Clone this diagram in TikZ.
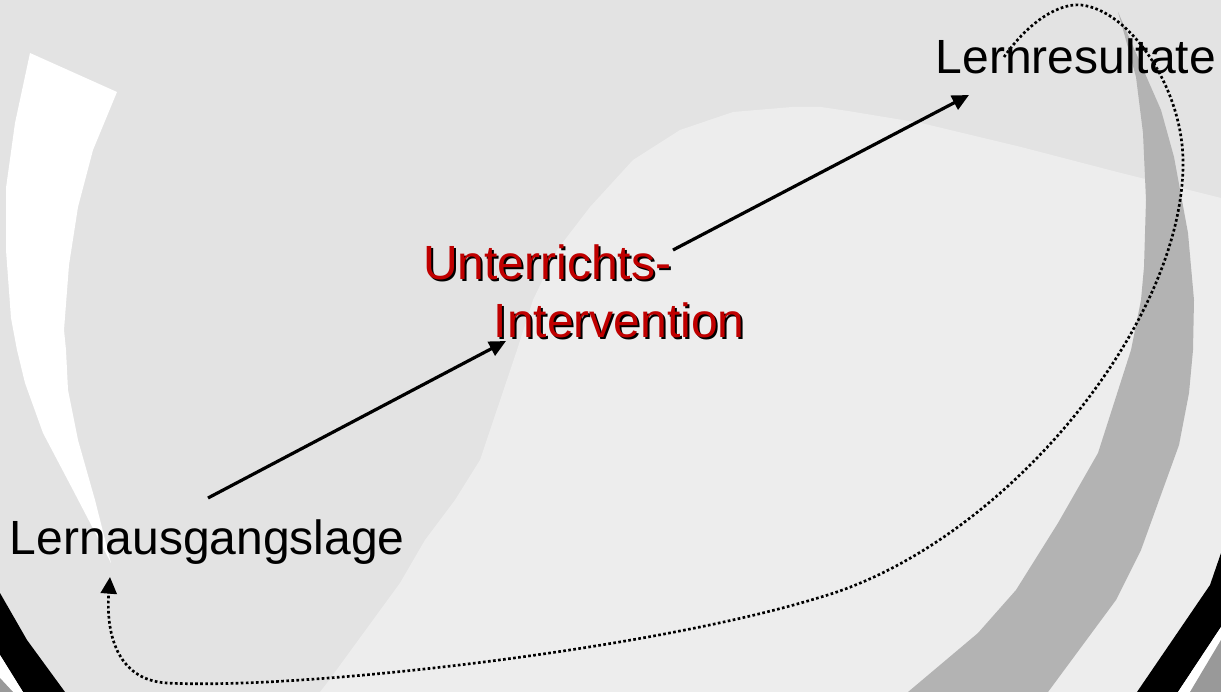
\documentclass[tikz,border=0pt]{standalone}
\usepackage{fontspec}
\setmainfont{Liberation Sans}
\usetikzlibrary{arrows.meta}
\definecolor{bgA}{HTML}{E3E3E3}
\definecolor{bgB}{HTML}{EDEDED}
\definecolor{band}{HTML}{B3B3B3}
\definecolor{cornergray}{HTML}{999999}
\definecolor{darkred}{HTML}{C00000}
\tikzset{
  lbl/.style={inner sep=0pt, anchor=base west, font=\fontsize{36}{43.5}\selectfont},
  arr/.style={line width=2.4pt, -{Triangle[length=12.5pt,width=11.5pt]}},
  dotline/.style={line width=2pt, dash pattern=on 2pt off 1.8pt, -{Triangle[length=12.5pt,width=12pt]}},
}
\begin{document}
\begin{tikzpicture}[x=0.75pt,y=-0.75pt]
\useasboundingbox (0,0) rectangle (1221,692);
% background
\fill[bgA] (0,0) rectangle (1221,692);
% white crescent on the left
\fill[white] (30,53) -- (117,92) -- (93,150) -- (78,207) -- (69,265) -- (64,330) -- (66,350)
  -- (68,390) -- (78,440) -- (95,500) -- (111,563) -- (73,490) -- (43,433) -- (25,383)
  -- (17,350) -- (11,318) -- (6,250) -- (6,188) -- (15,123) -- cycle;
% lighter region
\fill[bgB] (1221,198) -- (1121,173) -- (1021,147) -- (921,123) -- (848,111) -- (821,107)
  -- (792,107) -- (733,112) -- (680,130) -- (633,160) -- (590,207) -- (557,250) -- (533,300)
  -- (517,350) -- (480,460) -- (455,500) -- (425,540) -- (400,583) -- (327,683) -- (320,692)
  -- (1221,692) -- cycle;
% gray band on the right
\fill[band] (1118,12) -- (1124,33) -- (1136,77) -- (1143,133) -- (1146,200) -- (1144,267)
  -- (1141,300) -- (1131,350) -- (1098,453) -- (1058,523) -- (1016,590) -- (978,633) -- (908,692)
  -- (1048,692) -- (1116,600) -- (1141,550) -- (1179,445) -- (1189,393) -- (1193,350) -- (1194,300)
  -- (1188,233) -- (1174,157) -- (1161,110) -- cycle;
% bottom right corner bands
\fill[black] (1221,553) -- (1210,585) -- (1137,692) -- (1178,692) -- (1221,627) -- cycle;
\fill[white] (1221,627) -- (1178,692) -- (1190,692) -- (1221,640) -- cycle;
\fill[cornergray] (1221,640) -- (1190,692) -- (1221,692) -- cycle;
% bottom left corner bands
\fill[black] (0,593) -- (27,640) -- (65,692) -- (23,692) -- (0,655) -- cycle;
\fill[white] (0,655) -- (23,692) -- (13,692) -- (0,678) -- cycle;
\fill[cornergray] (0,678) -- (13,692) -- (0,692) -- cycle;

% texts
\node[lbl] (aus) at (9.5,554) {Lernausgangslage};
\node[lbl] (res) at (935.5,74) {Lernresultate};
\node[lbl, text=black] (int1s) at (425,281) {Unterrichts-};
\node[lbl, text=black] (int2s) at (495.5,339) {Intervention};
\node[lbl, text=darkred] (int1) at (423,279) {Unterrichts-};
\node[lbl, text=darkred] (int2) at (493.5,337) {Intervention};

% arrows
\coordinate (a1) at (208,498);
\coordinate (a2) at (506,341);
\coordinate (b1) at (673,250);
\coordinate (b2) at (969,95);
\draw[arr] (a1) -- (a2);
\draw[arr] (b1) -- (b2);

% dotted feedback curve
\coordinate (c0) at (1004,57);
\coordinate (c1) at (1081,5);
\coordinate (c2) at (1183,167);
\coordinate (c3) at (821,597);
\coordinate (c4) at (167,683);
\coordinate (c5) at (110,577);
\draw[dotline] (c0) .. controls (1030,20) and (1060,3) .. (c1)
  .. controls (1130,10) and (1185,90) .. (c2)
  .. controls (1180,330) and (1000,545) .. (c3)
  .. controls (650,650) and (300,690) .. (c4)
  .. controls (115,680) and (106,630) .. (c5);
\end{tikzpicture}
\end{document}
